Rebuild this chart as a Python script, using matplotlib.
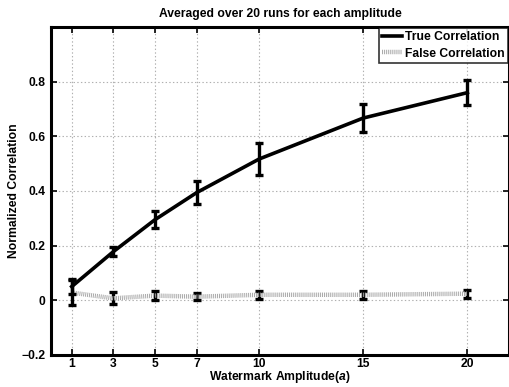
import matplotlib
matplotlib.use("Agg")
import matplotlib.pyplot as plt
from matplotlib.lines import Line2D

plt.rcParams['font.family'] = ['Liberation Sans', 'DejaVu Sans']
plt.rcParams['font.weight'] = 'bold'
plt.rcParams['mathtext.fontset'] = 'custom'
plt.rcParams['mathtext.bfit'] = 'Liberation Sans:bold:italic'
plt.rcParams['mathtext.it'] = 'Liberation Sans:bold:italic'
plt.rcParams['lines.scale_dashes'] = False

# amplitudes and averaged correlations
amplitudes = [1, 3, 5, 7, 10, 15, 20]
true_corr = [0.05, 0.178, 0.295, 0.394, 0.517, 0.667, 0.760]
true_err = [0.028, 0.017, 0.032, 0.042, 0.060, 0.052, 0.047]
false_corr = [0.028, 0.007, 0.017, 0.013, 0.020, 0.020, 0.024]
false_err = [0.045, 0.022, 0.016, 0.013, 0.014, 0.014, 0.014]

y_ticks = [-0.2, 0, 0.2, 0.4, 0.6, 0.8]
y_ticklabels = ['\u22120.2', '0', '0.2', '0.4', '0.6', '0.8']

FS = 8.7
FALSE_DASH = (0.7, 0.7)
FALSE_COLOR = '#a8a8a8'

fig = plt.figure(figsize=(5.09, 3.87), dpi=100)
ax = fig.add_axes([0.1, 0.083, 0.9, 0.847])

eb = ax.errorbar(amplitudes, false_corr, yerr=false_err, color=FALSE_COLOR,
                 linewidth=3.2, ecolor='black', elinewidth=2.4,
                 capsize=3.2, capthick=2.4, zorder=3)
eb[0].set_dashes(FALSE_DASH)
ax.errorbar(amplitudes, true_corr, yerr=true_err, color='black',
            linestyle='-', linewidth=2.6, ecolor='black', elinewidth=2.4,
            capsize=3.2, capthick=2.4, zorder=4)

ax.set_xlim(0, 22)
ax.set_ylim(-0.2, 1.0)
ax.set_xticks(amplitudes)
ax.set_yticks(y_ticks)
ax.set_yticklabels(y_ticklabels)
ax.tick_params(direction='in', length=4, width=1.2, labelsize=FS,
               top=True, right=True, pad=4)
ax.tick_params(axis='x', pad=2.5)
ax.grid(True, linestyle=':', color='#b0b0b0', linewidth=0.8)
ax.set_axisbelow(True)
for s in ax.spines.values():
    s.set_linewidth(2.2)

ax.set_title('Averaged over 20 runs for each amplitude', fontsize=FS,
             fontweight='bold', pad=7)
ax.set_xlabel(r'Watermark Amplitude($\mathbfit{a}$)', fontsize=FS,
              fontweight='bold', labelpad=-1)
ax.set_ylabel('Normalized Correlation', fontsize=FS, fontweight='bold',
              labelpad=1)

false_handle = Line2D([], [], color=FALSE_COLOR, linewidth=3.2)
false_handle.set_dashes(FALSE_DASH)
handles = [Line2D([], [], color='black', linewidth=2.6), false_handle]
leg = ax.legend(handles, ['True Correlation', 'False Correlation'],
                loc='upper right', fontsize=FS, frameon=True, fancybox=False,
                borderpad=0.3, handlelength=1.6, handletextpad=0.3,
                labelspacing=0.35, borderaxespad=0.05)
leg.get_frame().set_edgecolor('black')
leg.get_frame().set_linewidth(1.2)

fig.savefig('out.png', dpi=100)
